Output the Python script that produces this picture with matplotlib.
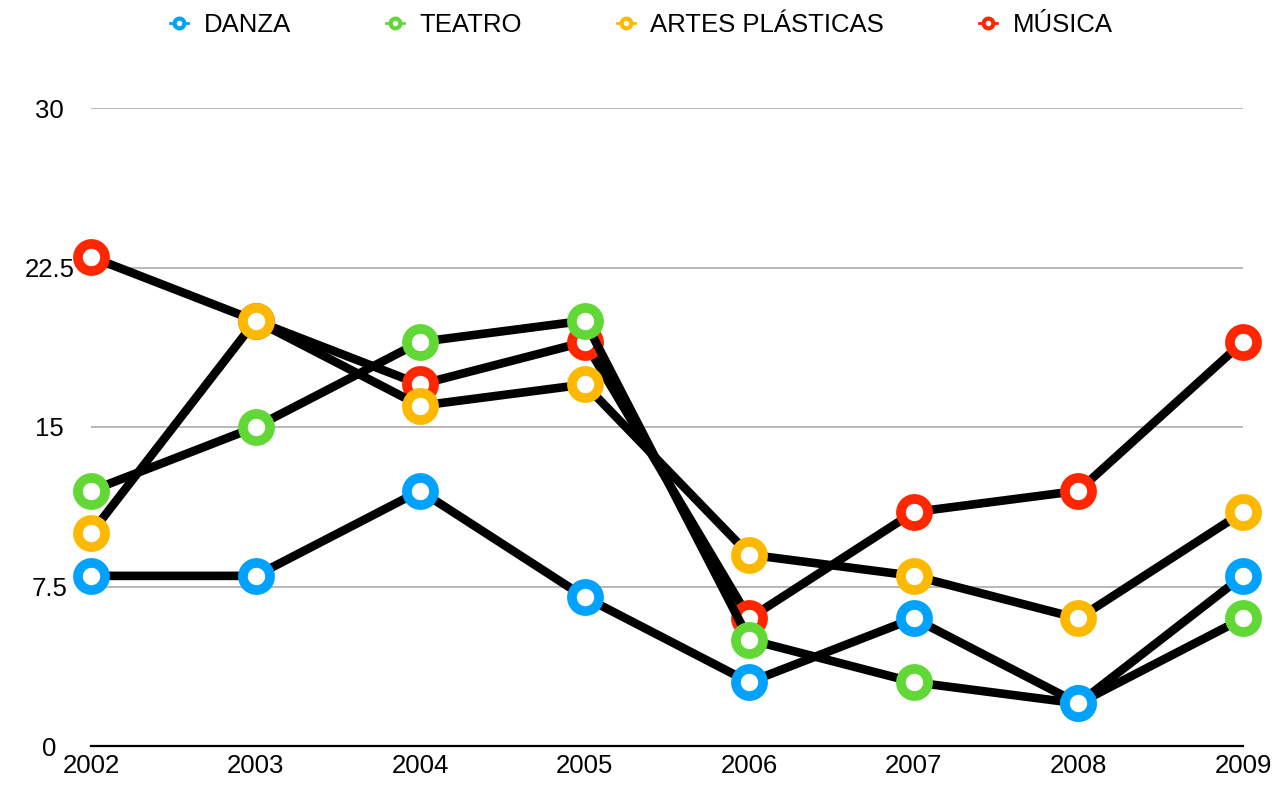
import matplotlib
matplotlib.use("Agg")
from matplotlib import pyplot as plt
from matplotlib.lines import Line2D

years = [2002, 2003, 2004, 2005, 2006, 2007, 2008, 2009]
danza = [8, 8, 12, 7, 3, 6, 2, 8]
teatro = [12, 15, 19, 20, 5, 3, 2, 6]
artes = [10, 20, 16, 17, 9, 8, 6, 11]
musica = [23, 20, 17, 19, 6, 11, 12, 19]

names = ["DANZA", "TEATRO", "ARTES PLÁSTICAS", "MÚSICA"]
colors = ["#00a2ff", "#61d836", "#fcb900", "#ff2600"]
series = [danza, teatro, artes, musica]
yticks = [0, 7.5, 15, 22.5, 30]
ytick_labels = ["0", "7.5", "15", "22.5", "30"]

plt.rcParams['font.family'] = ['Liberation Sans', 'DejaVu Sans']

fig = plt.figure(figsize=(12.83, 7.88), dpi=100)
ax = fig.add_axes([91/1283, 42/788, (1243-91)/1283, (746-108)/788])

# MÚSICA goes underneath, DANZA on top
for i in range(len(series) - 1, -1, -1):
    ax.plot(years, series[i], color='black', lw=6.2,
            marker='o', ms=19.5, mew=7.0, mec=colors[i], mfc='white',
            clip_on=False, zorder=10 - i)

ax.set_xlim(2002, 2009)
ax.set_ylim(0, 30)
ax.set_xticks(years)
ax.set_xticklabels([str(y) for y in years])
ax.set_yticks(yticks)
ax.set_yticklabels(ytick_labels)
for lab in ax.get_yticklabels():
    lab.set_horizontalalignment('center')
ax.tick_params(axis='y', length=0, pad=30, labelsize=18.5)
ax.tick_params(axis='x', length=0, pad=6, labelsize=18.5)

ax.grid(axis='y', color='#b8b8b8', lw=1.4)
ax.set_axisbelow(True)
for s in ['left', 'right', 'top']:
    ax.spines[s].set_visible(False)
ax.spines['bottom'].set_color('black')
ax.spines['bottom'].set_linewidth(1.6)
ax.spines['bottom'].set_zorder(1)

handles = [Line2D([], [], color=c, lw=2, marker='o', ms=7, mew=3, mec=c, mfc='white')
           for c in colors]
fig.legend(handles, names, loc='center', bbox_to_anchor=(0.5, 1 - 25/788), ncol=4,
           frameon=False, fontsize=18.5, handlelength=0.7, handletextpad=0.6,
           columnspacing=3.7)

fig.savefig("out.png", dpi=100)
